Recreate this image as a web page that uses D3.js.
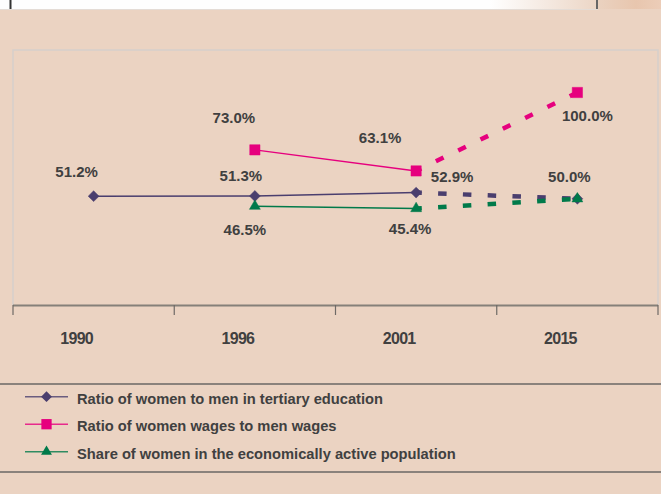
<!DOCTYPE html>
<html>
<head>
<meta charset="utf-8">
<script src="https://cdn.jsdelivr.net/npm/d3@7"></script>
<style>
  body { margin: 0; background: #ebd3c2; }
  svg { display: block; font-family: "Liberation Sans", Arial, sans-serif; }
</style>
</head>
<body>
<div id="chart"></div>
<script>
const years = ["1990", "1996", "2001", "2015"]
const tertiary = [51.2, 51.3, 52.9, 50.0]
const wages = [null, 73.0, 63.1, 100.0]
const active = [null, 46.5, 45.4, 50.0]
const seriesNames = [
  "Ratio of women to men in tertiary education",
  "Ratio of women wages to men wages",
  "Share of women in the economically active population"
]
const projectedFrom = 2 // index of last observed year, dashed after it

const width = 661
const height = 494
const bg = "#ebd3c2"
const textColor = "#404040"

// label offsets relative to the marker (layout only)
const labelOffsets = {
  tertiary: [[-17, -24], [-14, -20], [36, -16], null],
  wages: [null, [-21, -32], [-36, -33], [10, 23]],
  active: [null, [-10, 24], [-6, 20], [-8, -22]]
}

const series = [
  { key: "tertiary", name: seriesNames[0], values: tertiary, color: "#4a3e6e", symbol: d3.symbolDiamond2, size: 75 },
  { key: "wages", name: seriesNames[1], values: wages, color: "#e6007e", symbol: d3.symbolSquare2, size: 135 },
  { key: "active", name: seriesNames[2], values: active, color: "#007a4a", symbol: d3.symbolTriangle2, size: 85 }
]

const svg = d3.select("#chart").append("svg")
  .attr("width", width)
  .attr("height", height)
  .attr("viewBox", [0, 0, width, height])

// top strip
const defs = svg.append("defs")
const g1 = defs.append("linearGradient").attr("id", "stripFade")
g1.append("stop").attr("offset", 0).attr("stop-color", "#ffffff")
g1.append("stop").attr("offset", 1).attr("stop-color", "#ecd6c6")
const g2 = defs.append("linearGradient").attr("id", "cornerFade")
g2.append("stop").attr("offset", 0).attr("stop-color", "#ead2c0")
g2.append("stop").attr("offset", 0.6).attr("stop-color", "#e8c6ae")
g2.append("stop").attr("offset", 1).attr("stop-color", "#eccdb8")

svg.append("rect").attr("width", width).attr("height", height).attr("fill", bg)
svg.append("rect").attr("x", 0).attr("y", 0).attr("width", 490).attr("height", 9).attr("fill", "#fefefe")
svg.append("rect").attr("x", 490).attr("y", 0).attr("width", 106).attr("height", 9).attr("fill", "url(#stripFade)")
svg.append("rect").attr("x", 598).attr("y", 0).attr("width", 63).attr("height", 9).attr("fill", "url(#cornerFade)")
svg.append("line").attr("x1", 10.5).attr("x2", 10.5).attr("y1", 0).attr("y2", 9)
  .attr("stroke", "#333").attr("stroke-width", 2)
svg.append("line").attr("x1", 597).attr("x2", 597).attr("y1", 0).attr("y2", 9)
  .attr("stroke", "#666").attr("stroke-width", 2)
svg.append("line").attr("x1", 0).attr("x2", 598).attr("y1", 9.5).attr("y2", 9.5)
  .attr("stroke", "#e4dcd6").attr("stroke-width", 1)

// scales
const plotLeft = 13
const plotRight = 658
const plotTop = 50
const plotBottom = 305

const x = d3.scaleBand().domain(years).range([plotLeft, plotRight]).padding(0)
const y = d3.scaleLinear().domain([0, 120]).range([plotBottom, plotTop])
const cx = d => x(d) + x.bandwidth() / 2

// plot box
svg.append("path")
  .attr("d", `M${plotLeft},${plotBottom}V${plotTop}H${plotRight}V${plotBottom}`)
  .attr("fill", "none")
  .attr("stroke", "#d6d0cb")
  .attr("stroke-width", 1.5)

// x axis: line + boundary ticks
const edges = d3.range(years.length + 1).map(i => plotLeft + i * x.bandwidth())
const axis = svg.append("g").attr("class", "x-axis")
axis.append("line")
  .attr("x1", plotLeft).attr("x2", plotRight)
  .attr("y1", plotBottom + 0.5).attr("y2", plotBottom + 0.5)
  .attr("stroke", "#858079").attr("stroke-width", 2)
axis.selectAll("line.tick")
  .data(edges)
  .join("line")
  .attr("class", "tick")
  .attr("x1", d => d).attr("x2", d => d)
  .attr("y1", plotBottom).attr("y2", plotBottom + 10)
  .attr("stroke", "#6e6a66").attr("stroke-width", 1.2)

const xAxis = d3.axisBottom(x).tickSizeInner(0).tickSizeOuter(0).tickPadding(0)
const ax = svg.append("g")
  .attr("transform", `translate(0, ${plotBottom})`)
  .call(xAxis)
ax.select(".domain").remove()
ax.selectAll("text")
  .attr("dx", -17)
  .attr("y", 39)
  .attr("dy", 0)
  .attr("fill", textColor)
  .attr("font-size", 16)
  .attr("font-weight", "bold")
  .attr("letter-spacing", -0.7)
  .attr("font-family", "'Liberation Sans', Arial, sans-serif")

// lines
const line = d3.line()
  .defined(d => d.v != null)
  .x(d => cx(d.year))
  .y(d => y(d.v))

series.forEach(s => {
  const pts = years.map((year, i) => ({ year, v: s.values[i], i }))
  const solid = pts.filter(p => p.i <= projectedFrom)
  const dashed = pts.filter(p => p.i >= projectedFrom)
  svg.append("path")
    .datum(solid)
    .attr("fill", "none")
    .attr("stroke", s.color)
    .attr("stroke-width", 1.5)
    .attr("d", line)
  svg.append("path")
    .datum(dashed)
    .attr("fill", "none")
    .attr("stroke", s.color)
    .attr("stroke-width", 4.5)
    .attr("stroke-dasharray", "8.5,16.3")
    .attr("stroke-dashoffset", -22)
    .attr("d", line)
})

// markers
series.forEach(s => {
  const pts = years.map((year, i) => ({ year, v: s.values[i], i })).filter(p => p.v != null)
  svg.append("g")
    .selectAll("path")
    .data(pts)
    .join("path")
    .attr("transform", d => `translate(${cx(d.year)}, ${y(d.v)})`)
    .attr("d", d3.symbol(s.symbol, s.size))
    .attr("fill", s.color)
    .attr("stroke", s.color)
    .attr("stroke-width", 0.5)
})

// data labels
series.forEach(s => {
  const pts = years.map((year, i) => ({ year, v: s.values[i], off: labelOffsets[s.key][i] }))
    .filter(p => p.v != null && p.off)
  svg.append("g")
    .selectAll("text")
    .data(pts)
    .join("text")
    .attr("x", d => cx(d.year) + d.off[0])
    .attr("y", d => y(d.v) + d.off[1] + 5)
    .attr("text-anchor", "middle")
    .attr("fill", textColor)
    .attr("font-size", 15)
    .attr("font-weight", "bold")
    .text(d => d3.format(".1f")(d.v) + "%")
})

// legend
svg.append("line").attr("x1", 0).attr("x2", width).attr("y1", 384).attr("y2", 384)
  .attr("stroke", "#8a827c").attr("stroke-width", 2)
svg.append("line").attr("x1", 0).attr("x2", width).attr("y1", 472).attr("y2", 472)
  .attr("stroke", "#8a827c").attr("stroke-width", 2)

const legend = svg.append("g")
  .selectAll("g")
  .data(series)
  .join("g")
  .attr("transform", (d, i) => `translate(0, ${396.7 + i * 27.5})`)
legend.append("line")
  .attr("x1", 25).attr("x2", 68)
  .attr("stroke", d => d.color)
  .attr("stroke-width", 1.5)
  .attr("stroke-opacity", 0.8)
legend.append("path")
  .attr("transform", "translate(46.5, 0)")
  .attr("d", d => d3.symbol(d.symbol, d.size)())
  .attr("fill", d => d.color)
legend.append("text")
  .attr("x", 77)
  .attr("y", 7)
  .attr("fill", textColor)
  .attr("font-size", 14.7)
  .attr("font-weight", "bold")
  .text(d => d.name)
</script>
</body>
</html>
